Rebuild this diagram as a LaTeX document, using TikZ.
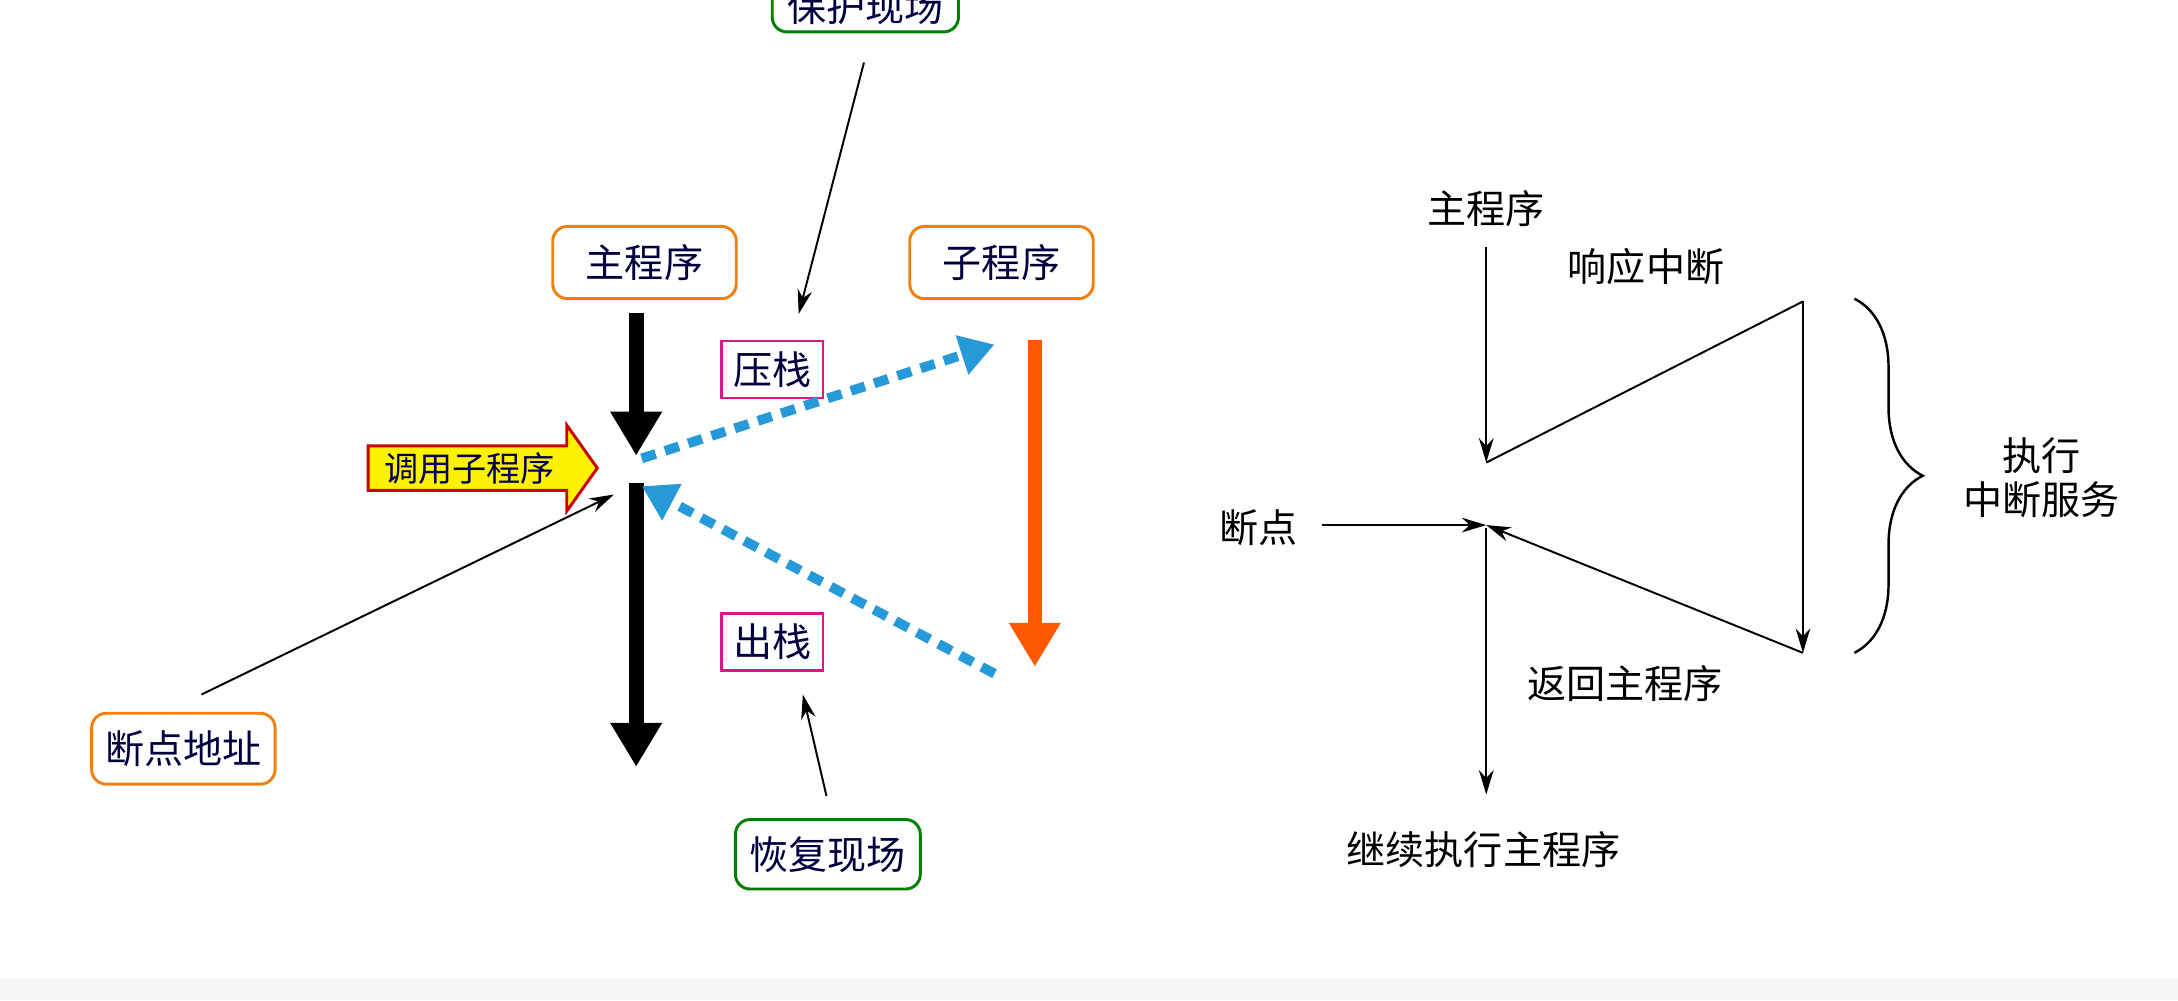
\documentclass[tikz,border=0pt]{standalone}
\usepackage{fontspec}
\newfontfamily\cjk{Noto Sans CJK SC}
\usetikzlibrary{arrows.meta,decorations.pathreplacing}
\begin{document}
\begin{tikzpicture}[x=0.01cm,y=-0.01cm,
  lbox/.style={draw=#1,rounded corners=3pt,line width=0.6pt,font=\cjk\fontsize{8}{9}\selectfont,text=black!75!blue,inner sep=0pt},
  sbox/.style={draw=magenta!80!violet,line width=0.6pt,font=\cjk\fontsize{8}{9}\selectfont,text=black!75!blue,inner sep=0pt},
  thin/.style={line width=0.4pt,-{Stealth[length=5pt,width=3pt]}},
  fat/.style={line width=3pt,-{Triangle[length=9pt,width=10pt]}},
  blued/.style={draw=blue!35!cyan!70!gray,line width=2pt,dash pattern=on 3pt off 2pt,-{Triangle[length=7pt,width=8pt]}},
  rt/.style={font=\cjk\fontsize{8}{9}\selectfont}]
\useasboundingbox (0,0) rectangle (1568,720);
\fill[gray!6] (0,705) rectangle (1568,720);
% left part
\node[lbox=green!50!black,minimum width=1.34cm,minimum height=0.36cm,anchor=south] (bh) at (623,24) {保护现场};
\node[lbox=orange!80!brown,minimum width=1.32cm,minimum height=0.52cm] (zc) at (464,189) {主程序};
\node[lbox=orange!80!brown,minimum width=1.32cm,minimum height=0.52cm] (zi) at (721,189) {子程序};
\node[sbox,minimum width=0.73cm,minimum height=0.41cm] (yz) at (556,266) {压栈};
\node[sbox,minimum width=0.73cm,minimum height=0.41cm] (cz) at (556,462) {出栈};
\node[lbox=orange!80!brown,minimum width=1.32cm,minimum height=0.51cm] (dd) at (132,539) {断点地址};
\node[lbox=green!50!black,minimum width=1.33cm,minimum height=0.50cm] (hf) at (596,615) {恢复现场};
\coordinate (a1) at (458,225); \coordinate (a2) at (458,328);
\coordinate (b1) at (458,348); \coordinate (b2) at (458,552);
\draw[fat] (a1) -- (a2);
\draw[fat] (b1) -- (b2);
\coordinate (r1) at (745,245); \coordinate (r2) at (745,480);
\draw[fat,color=red!30!orange] (r1) -- (r2);
\draw[fill=yellow,draw=red!80!black,line width=0.6pt] (265,321)--(408,321)--(408,306)--(430,337)--(408,368)--(408,353)--(265,353)--cycle;
\node[font=\cjk\fontsize{7}{8}\selectfont,text=black!70!blue] (dy) at (338,337) {调用子程序};
\coordinate (c1) at (462,330); \coordinate (c2) at (716,248);
\coordinate (d1) at (716,485); \coordinate (d2) at (462,350);
\draw[blued] (c1) -- (c2);
\draw[blued] (d1) -- (d2);
\coordinate (e1) at (622,45); \coordinate (e2) at (575,226);
\draw[thin] (e1) -- (e2);
\coordinate (f1) at (145,500); \coordinate (f2) at (442,356);
\draw[thin] (f1) -- (f2);
\coordinate (g1) at (595,573); \coordinate (g2) at (578,500);
\draw[thin] (g1) -- (g2);
% right part
\node[rt] (m) at (1070,150) {主程序};
\node[rt] (xy) at (1185,192) {响应中断};
\node[rt,align=center] (zx) at (1470,344) {执行\\中断服务};
\node[rt] (dp) at (906,380) {断点};
\node[rt] (fh) at (1170,492) {返回主程序};
\node[rt] (jx) at (1068,612) {继续执行主程序};
\coordinate (p1) at (1070,178); \coordinate (p2) at (1070,333);
\coordinate (p3) at (1298,217); \coordinate (p4) at (1298,470);
\coordinate (p5) at (1070,378); \coordinate (p6) at (952,378);
\coordinate (p7) at (1070,380); \coordinate (p8) at (1070,572);
\draw[thin] (p1) -- (p2);
\draw[line width=0.4pt] (p2) -- (p3);
\draw[thin] (p3) -- (p4);
\draw[thin] (p4) -- (p5);
\draw[thin] (p6) -- (p5);
\draw[thin] (p7) -- (p8);
\draw[line width=0.5pt,decorate,decoration={brace,amplitude=14pt}] (1335,215) -- (1335,470);
\end{tikzpicture}
\end{document}
